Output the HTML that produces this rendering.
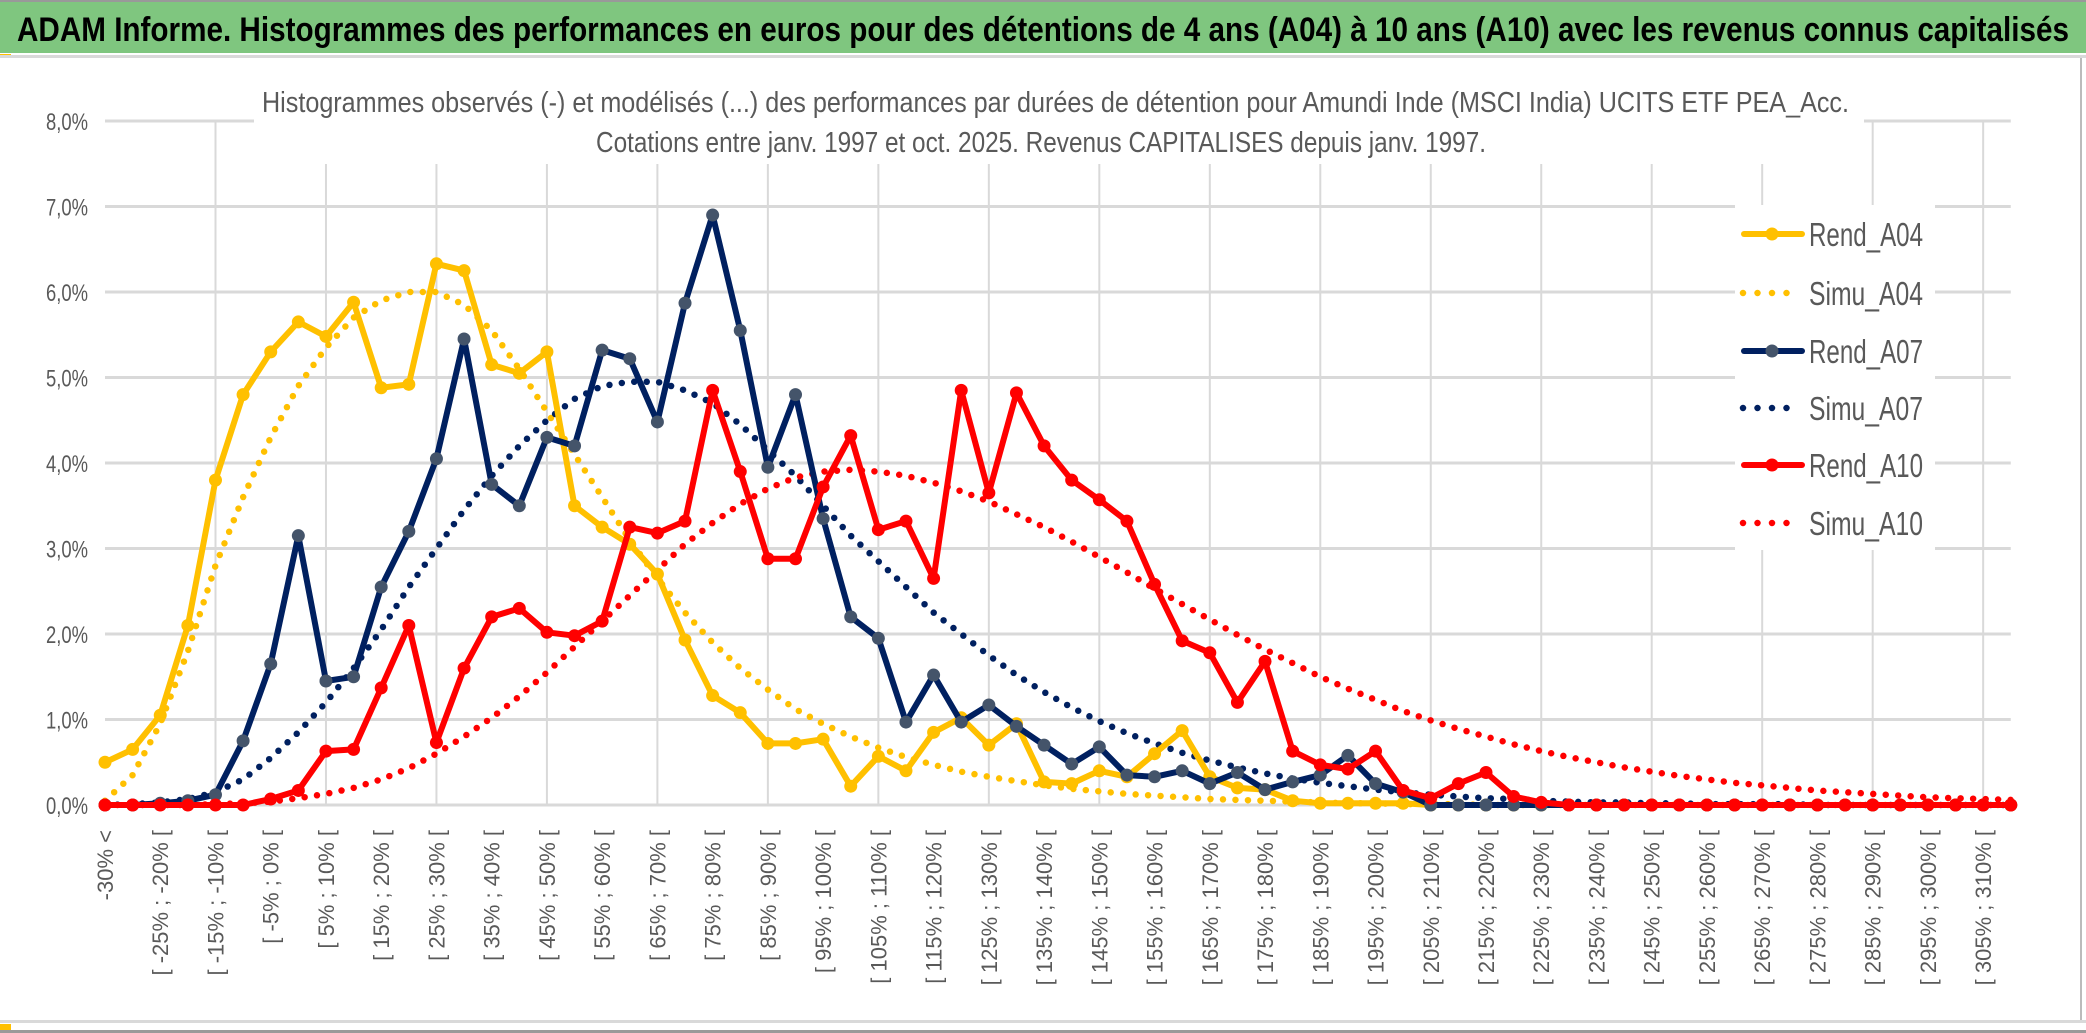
<!DOCTYPE html>
<html><head><meta charset="utf-8"><style>
html,body{margin:0;padding:0;background:#fff;}
svg{display:block;font-family:"Liberation Sans",sans-serif;}
</style></head><body>
<svg id="chart" width="2086" height="1033" viewBox="0 0 2086 1033" xmlns="http://www.w3.org/2000/svg">
<rect x="0" y="0" width="2086" height="1033" fill="#fff"/>
<rect x="0" y="0" width="2086" height="2" fill="#999"/>
<rect x="0" y="2" width="2086" height="51" fill="#7fc67f"/>
<rect x="0" y="54" width="11" height="3" fill="#ffc000"/>
<rect x="0" y="55" width="2086" height="3" fill="#d9d9d9"/>
<text x="17" y="41" font-size="34" font-weight="bold" fill="#000" textLength="2052" lengthAdjust="spacingAndGlyphs">ADAM Informe. Histogrammes des performances en euros pour des détentions de 4 ans (A04) à 10 ans (A10) avec les revenus connus capitalisés</text>
<rect x="2080" y="58" width="2" height="965" fill="#bbb"/>
<rect x="0" y="1020" width="2086" height="3" fill="#d9d9d9"/>
<rect x="0" y="1024" width="11" height="7" fill="#ffc000"/>
<rect x="0" y="1030" width="2086" height="3" fill="#999"/>
<g id="grid"></g>
<rect x="254" y="80" width="1610" height="84" fill="#fff"/>
<text x="262" y="112" font-size="29" fill="#595959" textLength="1587" lengthAdjust="spacingAndGlyphs">Histogrammes observés (-) et modélisés (...) des performances par durées de détention pour Amundi Inde (MSCI India) UCITS ETF PEA_Acc.</text>
<text x="596" y="152" font-size="29" fill="#595959" textLength="890" lengthAdjust="spacingAndGlyphs">Cotations entre janv. 1997 et oct. 2025. Revenus CAPITALISES depuis janv. 1997.</text>
<g id="yaxis"></g>
<g id="xaxis"></g>
<g id="series"></g>
<rect x="1735" y="205" width="200" height="345" fill="#fff"/>
<g id="legend"></g>
</svg>
<script>
const categoriesLow = [];
const tickValues = [0,1,2,3,4,5,6,7,8];
const rendA04 = [0.5,0.65,1.05,2.1,3.8,4.8,5.3,5.65,5.48,5.88,4.88,4.92,6.33,6.25,5.15,5.05,5.3,3.5,3.25,3.05,2.7,1.93,1.28,1.08,0.72,0.72,0.77,0.22,0.57,0.4,0.85,1.02,0.7,0.95,0.27,0.25,0.4,0.33,0.6,0.87,0.33,0.2,0.18,0.05,0.02,0.02,0.02,0.02,0,0,0,0,0,0,0,0,0,0,0,0,0,0,0,0,0,0,0,0,0,0];
const simuA04 = [0.05,0.35,0.95,1.8,2.8,3.6,4.3,4.9,5.35,5.7,5.9,6.0,6.0,5.85,5.55,5.1,4.6,4.1,3.6,3.1,2.65,2.25,1.9,1.6,1.35,1.12,0.95,0.8,0.67,0.56,0.47,0.39,0.33,0.28,0.23,0.19,0.16,0.13,0.11,0.09,0.07,0.06,0.05,0.04,0.03,0.02,0.02,0.01,0.01,0.01,0,0,0,0,0,0,0,0,0,0,0,0,0,0,0,0,0,0,0,0];
const rendA07 = [0,0,0.02,0.05,0.12,0.75,1.65,3.15,1.45,1.5,2.55,3.2,4.05,5.45,3.75,3.5,4.3,4.2,5.32,5.22,4.48,5.87,6.9,5.55,3.95,4.8,3.35,2.2,1.95,0.97,1.52,0.97,1.17,0.92,0.7,0.48,0.68,0.35,0.33,0.4,0.25,0.38,0.18,0.27,0.35,0.58,0.25,0.15,0,0,0,0,0,0,0,0,0,0,0,0,0,0,0,0,0,0,0,0,0,0];
const simuA07 = [0,0.01,0.03,0.07,0.15,0.3,0.55,0.85,1.2,1.6,2.05,2.55,3.0,3.45,3.85,4.2,4.5,4.75,4.9,4.95,4.95,4.85,4.7,4.45,4.15,3.85,3.5,3.15,2.85,2.55,2.25,2.0,1.75,1.52,1.32,1.14,0.98,0.84,0.72,0.61,0.52,0.44,0.37,0.31,0.26,0.22,0.18,0.15,0.12,0.1,0.08,0.07,0.05,0.04,0.03,0.03,0.02,0.02,0.01,0.01,0.01,0.01,0,0,0,0,0,0,0,0];
const rendA10 = [0,0,0,0,0,0,0.07,0.17,0.63,0.65,1.37,2.1,0.73,1.6,2.2,2.3,2.02,1.98,2.15,3.25,3.18,3.32,4.85,3.9,2.88,2.88,3.72,4.32,3.22,3.32,2.65,4.85,3.65,4.82,4.2,3.8,3.57,3.32,2.58,1.92,1.78,1.2,1.68,0.63,0.47,0.42,0.63,0.17,0.08,0.25,0.38,0.1,0.03,0,0,0,0,0,0,0,0,0,0,0,0,0,0,0,0,0];
const simuA10 = [0,0,0,0,0.01,0.02,0.04,0.08,0.13,0.2,0.3,0.43,0.6,0.8,1.02,1.27,1.55,1.85,2.15,2.45,2.75,3.05,3.3,3.52,3.7,3.83,3.9,3.92,3.9,3.85,3.77,3.67,3.55,3.4,3.25,3.08,2.9,2.72,2.53,2.35,2.17,1.99,1.82,1.66,1.5,1.36,1.23,1.1,0.99,0.89,0.8,0.71,0.63,0.56,0.5,0.44,0.39,0.34,0.3,0.26,0.23,0.2,0.17,0.15,0.13,0.11,0.09,0.08,0.07,0.06];
for (let k = 0; k < 70; k++) categoriesLow.push(k === 0 ? null : -30 + 5 * (k - 1));

const NS = "http://www.w3.org/2000/svg";
const X0 = 105, XSTEP = 27.62, Y0 = 805, YUNIT = 85.5;
const xs = i => X0 + i * XSTEP;
const ys = v => Y0 - v * YUNIT;
function mk(tag, attrs, parent) {
  const e = document.createElementNS(NS, tag);
  for (const k in attrs) e.setAttribute(k, attrs[k]);
  parent.appendChild(e);
  return e;
}
const grid = document.getElementById('grid');
tickValues.forEach(v => {
  const l = mk('line', {x1: X0, x2: xs(69), y1: ys(v), y2: ys(v), stroke: '#d9d9d9', 'stroke-width': 3}, grid);
  
  
});
for (let i = 4; i < 70; i += 4) {
  const l = mk('line', {x1: xs(i), x2: xs(i), y1: ys(8), y2: Y0, stroke: '#d9d9d9', 'stroke-width': 2}, grid);
  
  
}
const yax = document.getElementById('yaxis');
tickValues.forEach(v => {
  const t = mk('text', {x: 88, y: ys(v) + 9, 'text-anchor': 'end', 'font-size': 24, fill: '#595959', textLength: 42, lengthAdjust: 'spacingAndGlyphs'}, yax);
  t.textContent = v.toFixed(1).replace('.', ',') + '%';
  
  
});
const xax = document.getElementById('xaxis');
for (let i = 0; i < 70; i += 2) {
  const lo = categoriesLow[i];
  const label = lo === null ? '-30% <' : '[ ' + lo + '% ; ' + (lo + 5) + '% [';
  const t = mk('text', {x: 0, y: 0, 'text-anchor': 'end', 'font-size': 22, fill: '#595959', transform: 'translate(' + (xs(i) + 8) + ',830) rotate(-90)'}, xax);
  t.textContent = label;
  
  
}
const ser = document.getElementById('series');
function pts(arr) { return arr.map((v, i) => xs(i).toFixed(1) + ',' + ys(v).toFixed(1)).join(' '); }
function dotted(arr, color, name) {
  const p = mk('polyline', {points: pts(arr), fill: 'none', stroke: color, 'stroke-width': 6.5, 'stroke-linecap': 'round', 'stroke-dasharray': '0 12.5'}, ser);
  
  
}
function solid(arr, color, mcolor, name) {
  const p = mk('polyline', {points: pts(arr), fill: 'none', stroke: color, 'stroke-width': 6, 'stroke-linejoin': 'round'}, ser);
  
  
  arr.forEach((v, i) => {
    const c = mk('circle', {cx: xs(i), cy: ys(v), r: 6.5, fill: mcolor}, ser);
    
    
  });
}
dotted(simuA04, '#ffc000', 'simu-a04-line');
dotted(simuA07, '#002060', 'simu-a07-line');
dotted(simuA10, '#ff0000', 'simu-a10-line');
solid(rendA04, '#ffc000', '#ffc000', 'rend-a04-line');
solid(rendA07, '#002060', '#44546a', 'rend-a07-line');
solid(rendA10, '#ff0000', '#ff0000', 'rend-a10-line');

const leg = document.getElementById('legend');
const legendNames = ['Rend_A04','Simu_A04','Rend_A07','Simu_A07','Rend_A10','Simu_A10'];
const legendColors = ['#ffc000','#ffc000','#002060','#002060','#ff0000','#ff0000'];
const legendY = [234,293,351,408,465,523];
legendNames.forEach((n, k) => {
  const y = legendY[k];
  if (n.startsWith('Rend')) {
    mk('line', {x1: 1744, x2: 1802, y1: y, y2: y, stroke: legendColors[k], 'stroke-width': 6, 'stroke-linecap': 'round'}, leg);
    mk('circle', {cx: 1772, cy: y, r: 6.5, fill: k === 2 ? '#44546a' : legendColors[k]}, leg);
  } else {
    mk('line', {x1: 1743, x2: 1792, y1: y, y2: y, stroke: legendColors[k], 'stroke-width': 6.5, 'stroke-linecap': 'round', 'stroke-dasharray': '0 14.5'}, leg);
  }
  const t = mk('text', {x: 1809, y: y + 12, 'font-size': 33, fill: '#595959', textLength: 114, lengthAdjust: 'spacingAndGlyphs'}, leg);
  t.textContent = n;
  
  
});
</script>
</body></html>
